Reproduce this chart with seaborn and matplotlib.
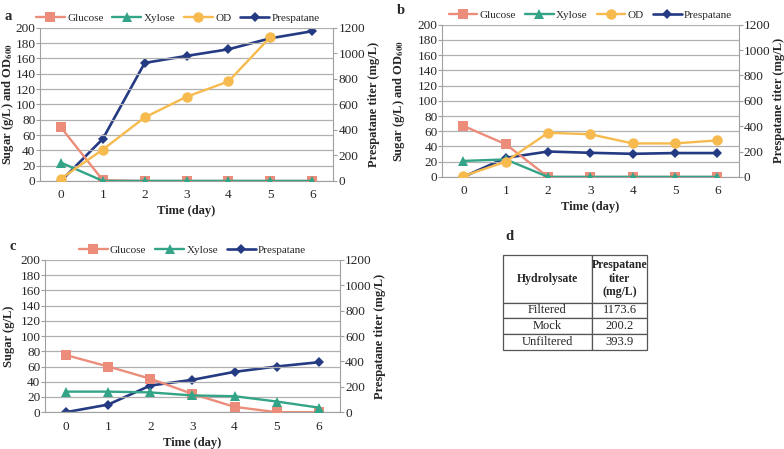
import matplotlib
matplotlib.use('Agg')
import matplotlib.pyplot as plt
import numpy as np
import pandas as pd
import seaborn as sns
from matplotlib.lines import Line2D

days = [0, 1, 2, 3, 4, 5, 6]

# panel a: filtered hydrolysate
a_glucose = [70, 1, 0, 0, 0, 0, 0]
a_xylose = [24, 0, 0, 0, 0, 0, 0]
a_od = [3, 41, 83, 110, 130, 188, np.nan]
a_prespatane = [0, 330, 925, 980, 1032, 1118, 1173.6]

# panel b: mock
b_glucose = [67, 43, 0, 0, 0, 0, 0]
b_xylose = [21, 23, 0, 0, 0, 0, 0]
b_od = [1, 20, 58, 56, 44, 44, 48]
b_prespatane = [0, 150, 200.2, 190, 182, 188, 188]

# panel c: unfiltered
c_glucose = [75, 60, 44, 24, 7, 0, 0]
c_xylose = [27, 27, 26, 22, 21, 14, 6]
c_prespatane = [0, 60, 210, 255, 318, 360, 393.9]

# table d
tbl_header = ['Hydrolysate', 'Prespatane\ntiter\n(mg/L)']
tbl_rows = [['Filtered', '1173.6'], ['Mock', '200.2'], ['Unfiltered', '393.9']]

colors = {'Glucose': '#EC8C7A', 'Xylose': '#33A488', 'OD': '#F6BA4E', 'Prespatane': '#243A82'}
markers = {'Glucose': 's', 'Xylose': '^', 'OD': 'o', 'Prespatane': 'D'}
msize = {'Glucose': 6.5, 'Xylose': 7.5, 'OD': 7.5, 'Prespatane': 5.5}

sns.set_style('white')
plt.rcParams['font.family'] = ['Liberation Serif', 'DejaVu Serif']
plt.rcParams['mathtext.fontset'] = 'stix'
tick_fs = 9.5
lab_fs = 9

fig = plt.figure(figsize=(7.84, 4.49), dpi=100)


def panel(rect, left_series, right_series, ylabel, leg_x, ylab_x):
    ax = fig.add_axes(rect)
    ax2 = ax.twinx()
    handles = []
    for name, vals in left_series:
        df = pd.DataFrame({'day': days, 'v': vals}).dropna()
        sns.lineplot(data=df, x='day', y='v', ax=ax, color=colors[name], marker=markers[name],
                     markersize=msize[name], markeredgewidth=0, linewidth=1.7, zorder=3)
        handles.append(Line2D([], [], color=colors[name], marker=markers[name],
                              markersize=msize[name], markeredgewidth=0, linewidth=1.7, label=name))
    df = pd.DataFrame({'day': days, 'v': right_series})
    sns.lineplot(data=df, x='day', y='v', ax=ax2, color=colors['Prespatane'], marker='D',
                 markersize=msize['Prespatane'], markeredgewidth=0, linewidth=1.9, zorder=4)
    handles.append(Line2D([], [], color=colors['Prespatane'], marker='D', markersize=msize['Prespatane'],
                          markeredgewidth=0, linewidth=1.9, label='Prespatane'))

    ax.set_xlim(-0.5, 6.5)
    ax.set_ylim(0, 200)
    ax2.set_ylim(0, 1200)
    ax.set_yticks(range(0, 201, 20))
    ax2.set_yticks(range(0, 1201, 200))
    ax.set_xticks(days)
    ax.set_xticks(np.arange(-0.5, 7, 1), minor=True)
    ax.yaxis.grid(True, color='#B0B0B0', linewidth=0.9)
    ax.set_axisbelow(True)
    for a in (ax, ax2):
        for s in a.spines.values():
            s.set_visible(False)
    for s in ('left', 'bottom'):
        ax.spines[s].set_visible(True)
        ax.spines[s].set_color('#A0A0A0')
    ax2.spines['right'].set_visible(True)
    ax2.spines['right'].set_color('#A0A0A0')
    ax.tick_params(axis='x', which='major', length=0, labelsize=tick_fs, pad=6)
    ax.tick_params(axis='x', which='minor', length=3, color='#A0A0A0')
    ax.tick_params(axis='y', length=3, color='#A0A0A0', labelsize=tick_fs, left=True, pad=0.3)
    ax2.tick_params(axis='y', length=3, color='#A0A0A0', labelsize=tick_fs, right=True, pad=0.8)
    ax.set_xlabel('Time (day)', fontsize=lab_fs, fontweight='bold', labelpad=3)
    ax.set_ylabel(ylabel, fontsize=lab_fs, fontweight='bold')
    ax.yaxis.set_label_coords(ylab_x, 0.5)
    ax2.set_ylabel('Prespatane titer (mg/L)', fontsize=lab_fs, fontweight='bold', labelpad=2)
    ax.set_zorder(ax2.get_zorder() + 1)
    ax.patch.set_visible(False)
    ax.legend(handles=handles, loc='lower center', bbox_to_anchor=(leg_x, 1.0), ncol=len(handles),
              frameon=False, fontsize=8, handlelength=2.6, columnspacing=0.8, handletextpad=0.2,
              borderaxespad=0.05)
    return ax


panel([0.051, 0.597, 0.374, 0.341],
      [('Glucose', a_glucose), ('Xylose', a_xylose), ('OD', a_od)], a_prespatane,
      'Sugar (g/L) and OD$_{\\mathbf{600}}$', 0.47, -0.082)
panel([0.564, 0.606, 0.378, 0.339],
      [('Glucose', b_glucose), ('Xylose', b_xylose), ('OD', b_od)], b_prespatane,
      'Sugar (g/L) and OD$_{\\mathbf{600}}$', 0.5, -0.118)
panel([0.0574, 0.082, 0.376, 0.339],
      [('Glucose', c_glucose), ('Xylose', c_xylose)], c_prespatane,
      'Sugar (g/L)', 0.5, -0.102)

# panel letters
for letter, px, py in [('a', 8, 17), ('b', 401, 10), ('c', 13, 247), ('d', 509, 236)]:
    fig.text(px / 784, 1 - py / 449, letter, fontsize=10.5, fontweight='bold', ha='center', va='center')

# table d
tax = fig.add_axes([503 / 784, 1 - 350 / 449, 144 / 784, 95 / 449])
tax.axis('off')
tbl = tax.table(cellText=tbl_rows, colLabels=tbl_header, cellLoc='center',
                colWidths=[89 / 144, 55 / 144], bbox=[0, 0, 1, 1])
tbl.auto_set_font_size(False)
for (r, c), cell in tbl.get_celld().items():
    cell.set_edgecolor('#555555')
    cell.set_linewidth(0.9)
    if r == 0:
        cell.set_height(0.5)
        cell.set_text_props(fontsize=8.5, linespacing=1.15, fontweight='bold')
    else:
        cell.set_height(0.5 / 3)
        cell.set_text_props(fontsize=9)

fig.savefig('out.png', dpi=100)
